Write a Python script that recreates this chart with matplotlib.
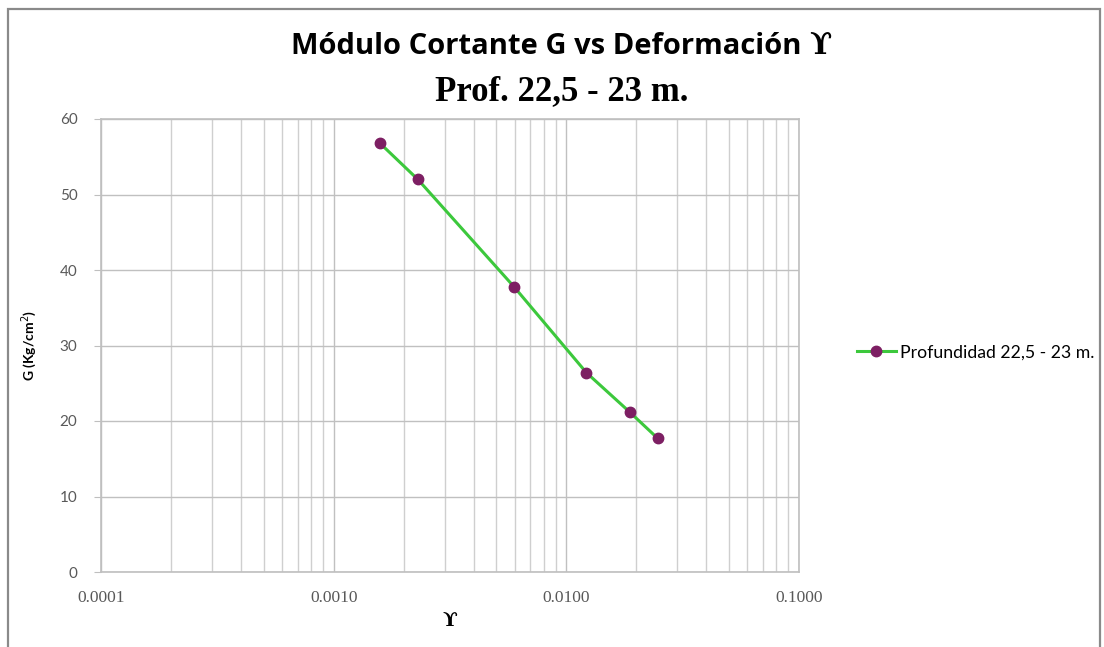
import matplotlib
matplotlib.use('Agg')
import matplotlib.pyplot as plt
from matplotlib.patches import Rectangle
from matplotlib.ticker import FixedLocator, LogLocator, NullFormatter
import numpy as np

#data
deformacion = [0.00158, 0.00230, 0.00595, 0.0122, 0.0187, 0.0247]
modulo_g = [56.8, 52.0, 37.8, 26.4, 21.2, 17.7]
serie_label = 'Profundidad 22,5 - 23 m.'
x_ticks = [0.0001, 0.001, 0.01, 0.1]
x_ticklabels = ['0.0001', '0.0010', '0.0100', '0.1000']
y_ticks = [0, 10, 20, 30, 40, 50, 60]

#figure and axes
fig = plt.figure(figsize=(11.04, 6.47), dpi=100)
ax = fig.add_axes([101/1104, 1-572/647, (799-101)/1104, (572-119)/647])

#outer frame
fig.add_artist(Rectangle((8/1104, -0.02), 1092/1104, 1-9/647+0.02,
                         transform=fig.transFigure, fill=False,
                         edgecolor='#8a8a8a', lw=1.6))

ax.plot(deformacion, modulo_g, color='#3cc83c', lw=2.2, marker='o',
        markersize=7.5, markerfacecolor='#7d1f63', markeredgecolor='#7d1f63',
        label=serie_label, zorder=3)

ax.set_xscale('log')
ax.set_xlim(0.0001, 0.1)
ax.set_ylim(0, 60)

ax.xaxis.set_major_locator(FixedLocator(x_ticks))
ax.xaxis.set_minor_locator(LogLocator(base=10, subs=np.arange(2, 10)))
ax.xaxis.set_minor_formatter(NullFormatter())
ax.set_xticks(x_ticks)
ax.set_xticklabels(x_ticklabels, fontfamily='Liberation Serif', fontsize=12.5, color='#595959')
ax.set_yticks(y_ticks)
ax.set_yticklabels([str(v) for v in y_ticks], fontfamily='Lato', fontsize=11, color='#595959')

ax.grid(which='major', axis='both', color='#c0c0c0', lw=1.0)
ax.grid(which='minor', axis='x', color='#cfcfcf', lw=1.0)
ax.set_axisbelow(True)

ax.tick_params(axis='x', which='both', length=0, pad=13)
ax.tick_params(axis='y', length=5, color='#bfbfbf', pad=12)
for s in ax.spines.values():
    s.set_color('#bfbfbf')
    s.set_linewidth(1.2)

ax.set_ylabel('G (Kg/cm$^{2}$)', fontfamily='Lato', fontweight='bold', fontsize=10, labelpad=15)
ax.set_xlabel('\u03d2', fontfamily='DejaVu Serif', fontweight='bold', fontsize=14, labelpad=4)

#titles - first line in sans, the gamma symbol in serif right after it
t1 = fig.text(291/1104, 1-46/647, 'Módulo Cortante G vs Deformación ', ha='left', va='center',
              fontfamily='Open Sans', fontweight='bold', fontsize=21)
fig.canvas.draw()
bb = t1.get_window_extent()
fig.text(bb.x1/1104, 1-45/647, '\u03d2', ha='left', va='center',
         fontfamily='DejaVu Serif', fontweight='bold', fontsize=21)
fig.text(0.509, 1-92/647, 'Prof. 22,5 - 23 m.', ha='center', va='center',
         fontfamily='Liberation Serif', fontweight='bold', fontsize=25)

leg = ax.legend(loc='center left', bbox_to_anchor=(1.06, 0.485), frameon=False,
                prop={'family': 'Lato', 'size': 12.7}, handlelength=2.2,
                handletextpad=0.25)

fig.savefig('out.png', dpi=100)
